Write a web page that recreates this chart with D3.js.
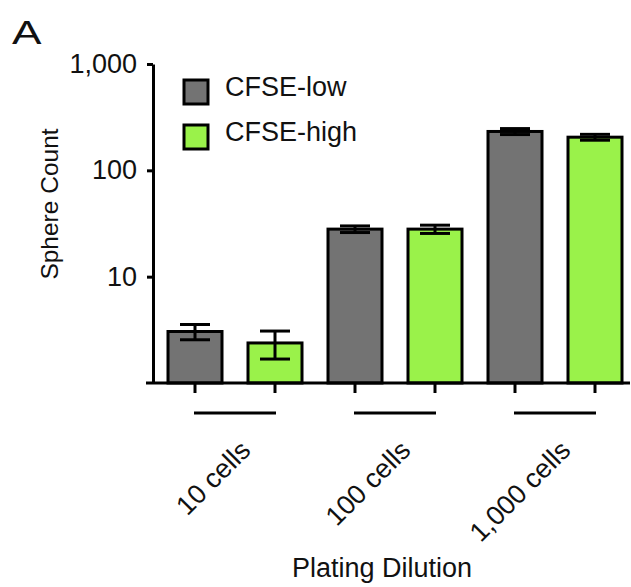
<!DOCTYPE html>
<html lang="en">
<head>
  <meta charset="UTF-8">
  <title>Sphere Count by Plating Dilution</title>
  <script src="https://d3js.org/d3.v7.min.js"></script>
  <style>
    body { margin: 0; background: #fff; }
    text { font-family: "Liberation Sans", Arial, sans-serif; fill: #111; }
  </style>
</head>
<body>
<div id="chart"></div>
<script>
// Data
const categories = ["10 cells", "100 cells", "1,000 cells"];
const seriesNames = ["CFSE-low", "CFSE-high"];
const lowMeans = [3.05, 28, 232];
const lowErrs = [0.5, 2, 15];
const highMeans = [2.38, 28, 205];
const highErrs = [0.7, 2.5, 13];
const yTicks = [10, 100, 1000];

const colors = { "CFSE-low": "#737373", "CFSE-high": "#9af24a" };

const width = 631, height = 587;
const axisX = 153, axisY = 383, topY = 64;

const svg = d3.select("#chart").append("svg")
  .attr("width", width)
  .attr("height", height);

// scales
const y = d3.scaleLog().domain([1, 1000]).range([axisY, topY]);
const x0 = d3.scaleBand().domain(categories).range([155, 635]);
const x1 = d3.scaleBand().domain(seriesNames).range([0, x0.bandwidth()])
  .paddingInner(0.325).paddingOuter(0.1625);

const rows = [];
categories.forEach((c, i) => {
  rows.push({ cat: c, s: "CFSE-low", v: lowMeans[i], e: lowErrs[i] });
  rows.push({ cat: c, s: "CFSE-high", v: highMeans[i], e: highErrs[i] });
});
const cx = d => x0(d.cat) + x1(d.s) + x1.bandwidth() / 2;

// bars
svg.selectAll("rect.bar")
  .data(rows)
  .enter().append("rect")
  .attr("class", "bar")
  .attr("x", d => x0(d.cat) + x1(d.s))
  .attr("y", d => y(d.v))
  .attr("width", x1.bandwidth())
  .attr("height", d => y(1) - y(d.v))
  .attr("fill", d => colors[d.s])
  .attr("stroke", "#000")
  .attr("stroke-width", 3);

// error bars
const capW = 30;
const eb = svg.selectAll("g.err").data(rows).enter().append("g").attr("class", "err");
eb.append("line")
  .attr("x1", cx).attr("x2", cx)
  .attr("y1", d => y(d.v + d.e)).attr("y2", d => y(d.v - d.e));
eb.append("line")
  .attr("x1", d => cx(d) - capW / 2).attr("x2", d => cx(d) + capW / 2)
  .attr("y1", d => y(d.v + d.e)).attr("y2", d => y(d.v + d.e));
eb.append("line")
  .attr("x1", d => cx(d) - capW / 2).attr("x2", d => cx(d) + capW / 2)
  .attr("y1", d => y(d.v - d.e)).attr("y2", d => y(d.v - d.e));
eb.selectAll("line").attr("stroke", "#000").attr("stroke-width", 3);

// y axis
const yAxis = svg.append("g")
  .attr("transform", `translate(${axisX},0)`)
  .call(d3.axisLeft(y).tickValues(yTicks).tickFormat(d3.format(",")).tickSize(6).tickSizeOuter(0).tickPadding(10));
yAxis.select(".domain").attr("stroke-width", 3);
yAxis.selectAll(".tick line").attr("stroke-width", 3);
yAxis.selectAll(".tick text")
  .style("font-size", "27px")
  .style("font-family", "'Liberation Sans', Arial, sans-serif")
  .attr("fill", "#111");

// x axis baseline and ticks
svg.append("line")
  .attr("x1", 146).attr("x2", 630)
  .attr("y1", axisY).attr("y2", axisY)
  .attr("stroke", "#000").attr("stroke-width", 3);
svg.selectAll("line.xtick")
  .data(rows)
  .enter().append("line")
  .attr("class", "xtick")
  .attr("x1", cx).attr("x2", cx)
  .attr("y1", axisY).attr("y2", axisY + 10)
  .attr("stroke", "#000").attr("stroke-width", 3);

// group underlines
svg.selectAll("line.group")
  .data(categories)
  .enter().append("line")
  .attr("class", "group")
  .attr("x1", c => x0(c) + x1("CFSE-low") + x1.bandwidth() / 2 - 1)
  .attr("x2", c => x0(c) + x1("CFSE-high") + x1.bandwidth() / 2 + 1)
  .attr("y1", 413).attr("y2", 413)
  .attr("stroke", "#000").attr("stroke-width", 3);

// category labels
svg.selectAll("text.cat")
  .data(categories)
  .enter().append("text")
  .attr("class", "cat")
  .attr("transform", c => `translate(${x0(c) + x0.bandwidth() / 2 + 17},452) rotate(-45)`)
  .attr("text-anchor", "end")
  .style("font-size", "27px")
  .text(c => c);

// axis titles
svg.append("text")
  .attr("transform", "translate(58,204) rotate(-90)")
  .attr("text-anchor", "middle")
  .style("font-size", "24.5px")
  .text("Sphere Count");

svg.append("text")
  .attr("x", 382).attr("y", 577)
  .attr("text-anchor", "middle")
  .style("font-size", "27px")
  .text("Plating Dilution");

// panel letter
svg.append("text")
  .attr("transform", "translate(12,44) scale(1.3,1)")
  .style("font-size", "34px")
  .text("A");

// legend
const legend = svg.selectAll("g.legend")
  .data(seriesNames)
  .enter().append("g")
  .attr("class", "legend")
  .attr("transform", (d, i) => `translate(184,${80 + i * 45})`);
legend.append("rect")
  .attr("width", 24).attr("height", 24)
  .attr("fill", d => colors[d])
  .attr("stroke", "#000").attr("stroke-width", 3);
legend.append("text")
  .attr("x", 41).attr("y", 16)
  .style("font-size", "27px")
  .text(d => d);
</script>
</body>
</html>
